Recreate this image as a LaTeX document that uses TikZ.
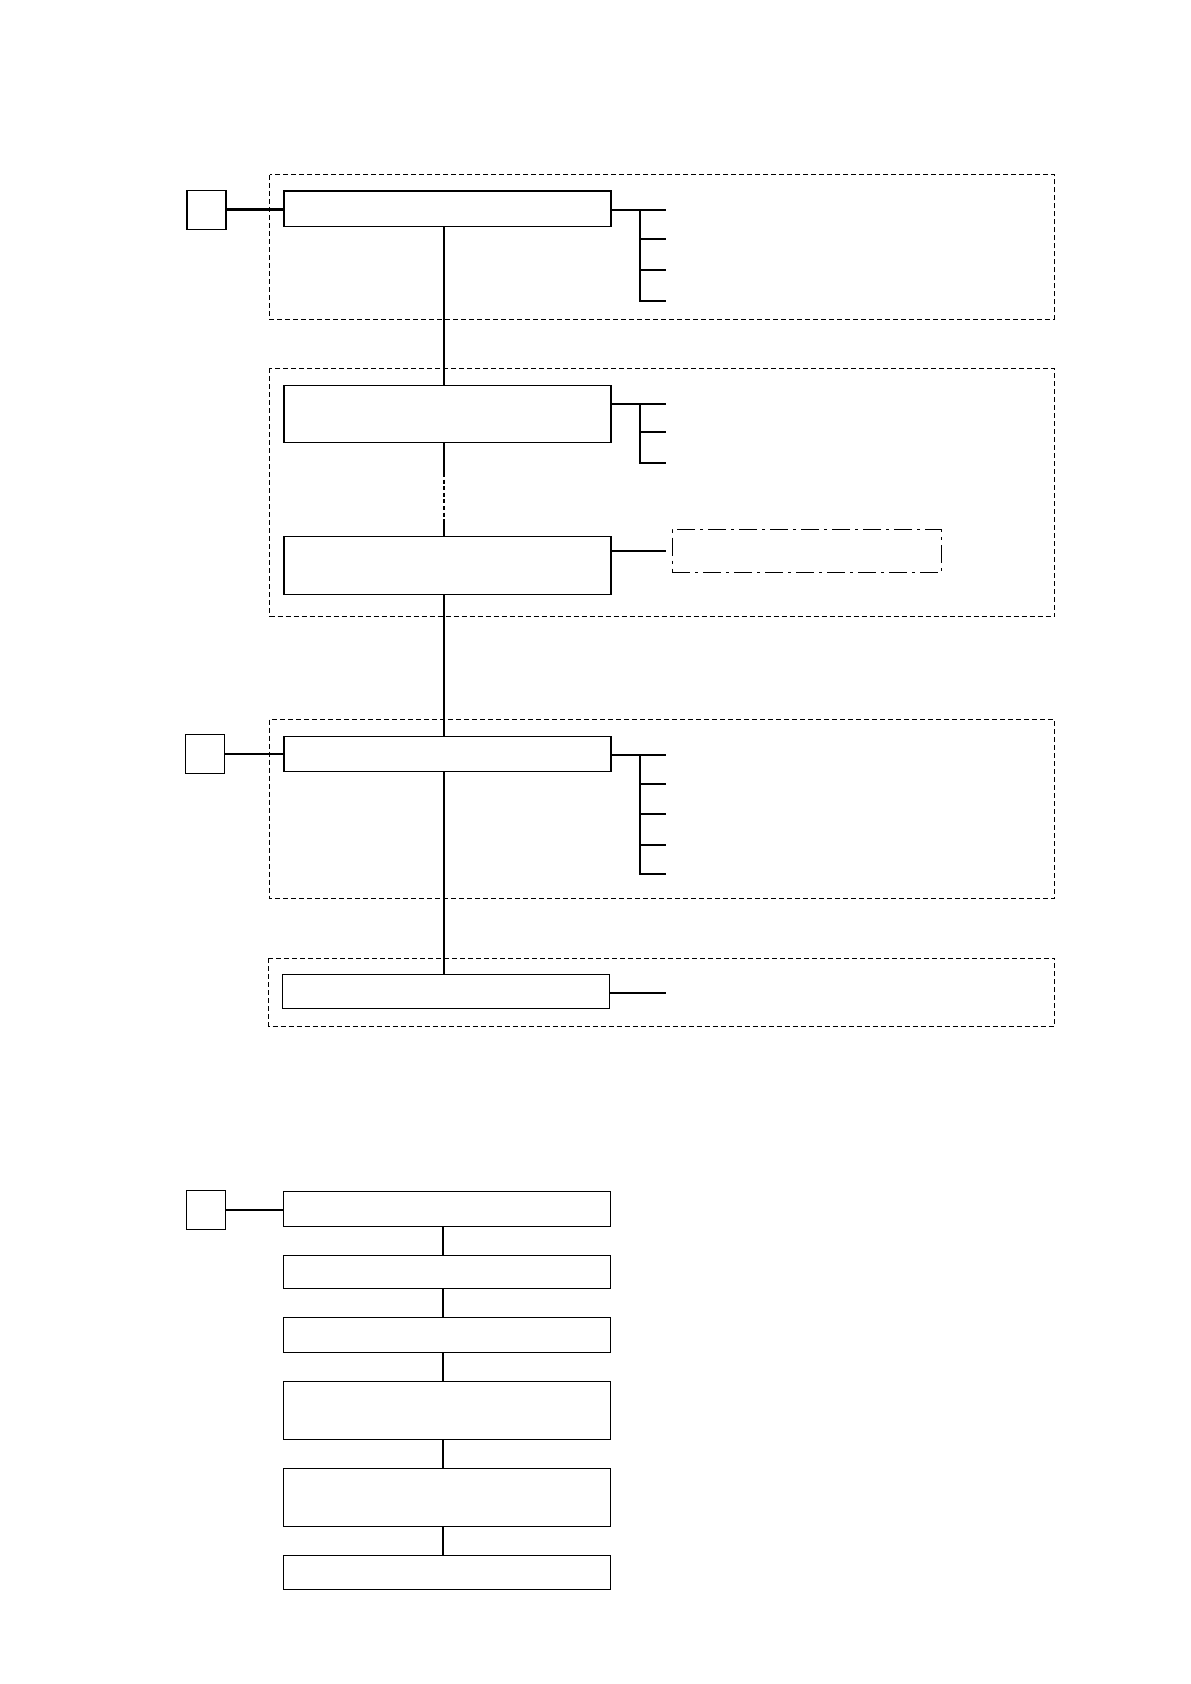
\documentclass[tikz,border=0pt]{standalone}
\begin{document}
\begin{tikzpicture}[x=0.5pt,y=-0.5pt,
  blk/.style={draw,line width=0.55pt,inner sep=0pt,minimum width=163.5pt},
  tag/.style={draw,line width=0.55pt,inner sep=0pt,minimum width=19.5pt,minimum height=19.5pt},
  grp/.style={draw,line width=0.5pt,dash pattern=on 2.5pt off 1.5pt},
  note/.style={draw,line width=0.5pt,dash pattern=on 9pt off 2.5pt on 1.5pt off 2.5pt,inner sep=0pt},
  link/.style={line width=1.1pt},
  spine/.style={line width=1pt}]
\useasboundingbox (0,0) rectangle (1190,1684);
\fill[white] (0,0) rectangle (1190,1684);
% dashed groups
\draw[grp] (269.6,175) rectangle (1054.7,319.2);
\draw[grp] (269.6,368.4) rectangle (1054.7,616.5);
\draw[grp] (269.6,719.5) rectangle (1054.7,898);
\draw[grp] (268.5,958) rectangle (1054.7,1026);
\coordinate (axis) at (443.6,0);
\coordinate (knee) at (640,0);
\coordinate (tip) at (666,0);
% upper chain
\node[tag] (tagA) at (206.5,209.6) {};
\node[blk,minimum height=17.65pt] (s1) at (447.5,208.7) {};
\node[blk,minimum height=28.75pt] (s2) at (447.5,414.2) {};
\node[blk,minimum height=29.15pt] (s3) at (447.5,565.2) {};
\node[note,minimum width=134.5pt,minimum height=21.5pt] (memo) at (806.5,551) {};
\node[tag] (tagB) at (205,753.8) {};
\node[blk,minimum height=17.5pt] (s4) at (447.5,753.8) {};
\node[blk,minimum height=17pt] (s5) at (446.3,991.3) {};
\coordinate (gapA) at (443.6,473);
\coordinate (gapB) at (443.6,520);
\draw[link] (tagA.east) -- (tagA.east -| s1.west);
\draw[link] (tagB.east) -- (tagB.east -| s4.west);
\draw[spine] (s1.south -| axis) -- (s2.north -| axis);
\draw[spine] (s2.south -| axis) -- (gapA);
\draw[spine,dash pattern=on 2pt off 1.3pt] (gapA) -- (gapB);
\draw[spine] (gapB) -- (s3.north -| axis);
\draw[spine] (s3.south -| axis) -- (s4.north -| axis);
\draw[spine] (s4.south -| axis) -- (s5.north -| axis);
% side brackets
\coordinate (h1) at (666,210);
\draw[link] (h1 -| s1.east) -- (h1);
\draw[link] (h1 -| knee) |- (666,300.7);
\foreach \y in {239,269.7,300.7}
  \draw[link] (knee |- 0,\y) -- (tip |- 0,\y);
\coordinate (h2) at (666,403.7);
\draw[link] (h2 -| s2.east) -- (h2);
\draw[link] (h2 -| knee) |- (666,463);
\foreach \y in {431.7,463}
  \draw[link] (knee |- 0,\y) -- (tip |- 0,\y);
\draw[link] (memo.west -| s3.east) -- (memo.west -| tip);
\coordinate (h4) at (666,754.7);
\draw[link] (h4 -| s4.east) -- (h4);
\draw[link] (h4 -| knee) |- (666,873.7);
\foreach \y in {783.7,814,844.7,873.7}
  \draw[link] (knee |- 0,\y) -- (tip |- 0,\y);
\draw[link] (s5.east |- 0,993) -- (tip |- 0,993);
% lower chain
\coordinate (axisB) at (442.5,0);
\node[tag] (tagC) at (205.6,1209.8) {};
\node[blk,minimum height=17.5pt] (b1) at (446.8,1208.8) {};
\node[blk,minimum height=16.5pt] (b2) at (446.8,1271.8) {};
\node[blk,minimum height=17.5pt] (b3) at (446.8,1334.8) {};
\node[blk,minimum height=29pt] (b4) at (446.8,1410.3) {};
\node[blk,minimum height=29pt] (b5) at (446.8,1497.3) {};
\node[blk,minimum height=17pt] (b6) at (446.8,1572.3) {};
\draw[link] (tagC.east) -- (tagC.east -| b1.west);
\foreach \a/\b in {b1/b2,b2/b3,b3/b4,b4/b5,b5/b6}
  \draw[spine] (\a.south -| axisB) -- (\b.north -| axisB);
\end{tikzpicture}
\end{document}
